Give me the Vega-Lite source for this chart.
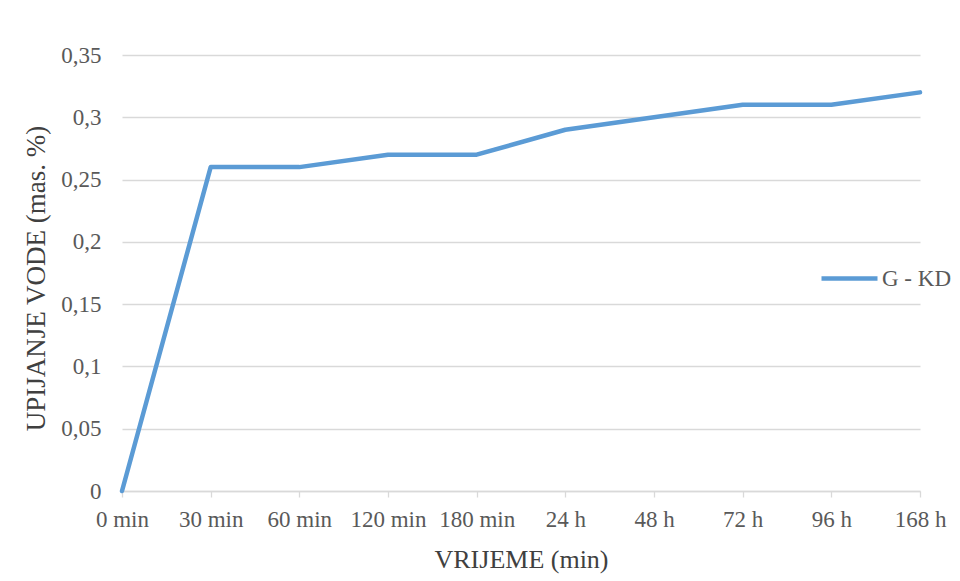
{
  "$schema": "https://vega.github.io/schema/vega-lite/v6.json",
  "autosize": {"type": "none"},
  "padding": {"left": 122, "top": 55, "right": 40, "bottom": 90},
  "width": 798,
  "height": 436,
  "background": "white",
  "config": {
    "view": {"stroke": null},
    "font": "Liberation Serif"
  },
  "data": {
    "values": [
      {"t": "0 min", "v": 0, "s": "G - KD"},
      {"t": "30 min", "v": 0.26, "s": "G - KD"},
      {"t": "60 min", "v": 0.26, "s": "G - KD"},
      {"t": "120 min", "v": 0.27, "s": "G - KD"},
      {"t": "180 min", "v": 0.27, "s": "G - KD"},
      {"t": "24 h", "v": 0.29, "s": "G - KD"},
      {"t": "48 h", "v": 0.30, "s": "G - KD"},
      {"t": "72 h", "v": 0.31, "s": "G - KD"},
      {"t": "96 h", "v": 0.31, "s": "G - KD"},
      {"t": "168 h", "v": 0.32, "s": "G - KD"}
    ]
  },
  "mark": {"type": "line", "strokeWidth": 4.5, "strokeCap": "round", "strokeJoin": "round"},
  "encoding": {
    "x": {
      "field": "t",
      "type": "ordinal",
      "sort": null,
      "scale": {"type": "point", "padding": 0},
      "title": "VRIJEME (min)",
      "axis": {
        "labelAngle": 0,
        "labelFont": "Liberation Serif",
        "labelFontSize": 23,
        "labelColor": "#595959",
        "labelPadding": 11,
        "domainColor": "#D9D9D9",
        "domainWidth": 1.3,
        "tickColor": "#D9D9D9",
        "tickWidth": 1.3,
        "tickSize": 6,
        "grid": false,
        "titleFont": "Liberation Serif",
        "titleFontSize": 26,
        "titleFontWeight": "normal",
        "titleColor": "#404040",
        "titlePadding": 15
      }
    },
    "y": {
      "field": "v",
      "type": "quantitative",
      "scale": {"domain": [0, 0.35], "nice": false},
      "title": "UPIJANJE VODE (mas. %)",
      "axis": {
        "values": [0, 0.05, 0.1, 0.15, 0.2, 0.25, 0.3, 0.35],
        "labelExpr": "replace(format(datum.value, '~g'), '.', ',')",
        "labelFont": "Liberation Serif",
        "labelFontSize": 23,
        "labelColor": "#595959",
        "labelPadding": 21,
        "domain": false,
        "ticks": false,
        "grid": true,
        "gridColor": "#D9D9D9",
        "gridWidth": 1.3,
        "titleFont": "Liberation Serif",
        "titleFontSize": 27,
        "titleFontWeight": "normal",
        "titleColor": "#404040",
        "titlePadding": 10,
        "titleY": 223
      }
    },
    "color": {
      "field": "s",
      "type": "nominal",
      "scale": {"range": ["#5B9BD5"]},
      "legend": {
        "title": null,
        "orient": "none",
        "legendX": 697,
        "legendY": 193,
        "symbolType": "stroke",
        "symbolSize": 3136,
        "symbolStrokeWidth": 4.5,
        "labelFont": "Liberation Serif",
        "labelFontSize": 23,
        "labelColor": "#595959",
        "labelOffset": 2
      }
    }
  }
}
